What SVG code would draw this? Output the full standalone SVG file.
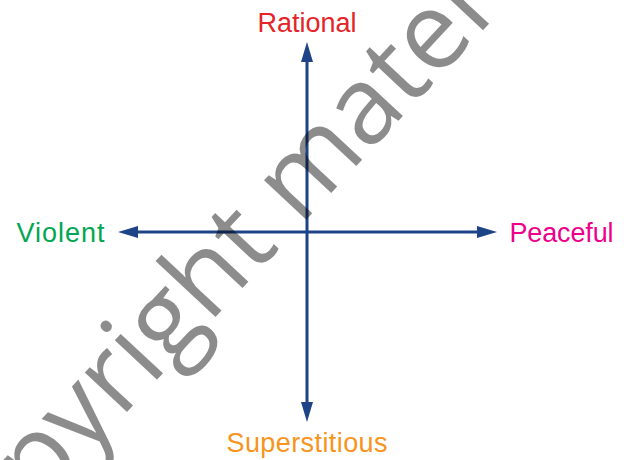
<svg xmlns="http://www.w3.org/2000/svg" width="624" height="460" viewBox="0 0 624 460">
<style>
.lbl{font-family:"Liberation Sans",Arial,sans-serif;font-size:27px;text-anchor:middle}
.axis{stroke:#1d4388;stroke-width:3;fill:none}
.wm{font-family:"Open Sans","Liberation Sans",sans-serif;font-size:108px;font-weight:400;fill:#000;fill-opacity:0.45}
</style>
<defs>
<marker id="ah" viewBox="0 0 20 12" refX="10" refY="6" markerWidth="20" markerHeight="12" markerUnits="userSpaceOnUse" orient="auto-start-reverse">
<path d="M0,0 L20,6 L0,12 z" fill="#1d4388"/>
</marker>
</defs>
<rect width="624" height="460" fill="#fff"/>
<g id="connectors">
<line class="axis" x1="307" y1="52" x2="307" y2="412" marker-start="url(#ah)" marker-end="url(#ah)"/>
<line class="axis" x1="128" y1="232" x2="487" y2="232" marker-start="url(#ah)" marker-end="url(#ah)"/>
</g>
<g id="rational"><text class="lbl" x="307" y="32" fill="#e52329">Rational</text></g>
<g id="violent"><text class="lbl" x="60.5" y="242" fill="#00a651" textLength="88" lengthAdjust="spacing">Violent</text></g>
<g id="peaceful"><text class="lbl" x="561.5" y="242" fill="#ec008c" textLength="104" lengthAdjust="spacing">Peaceful</text></g>
<g id="superstitious"><text class="lbl" x="307" y="452" fill="#f7941d" textLength="161" lengthAdjust="spacing">Superstitious</text></g>
<g id="watermark"><text class="wm" transform="translate(-52,604) rotate(-47)">Copyright material</text></g>
</svg>
